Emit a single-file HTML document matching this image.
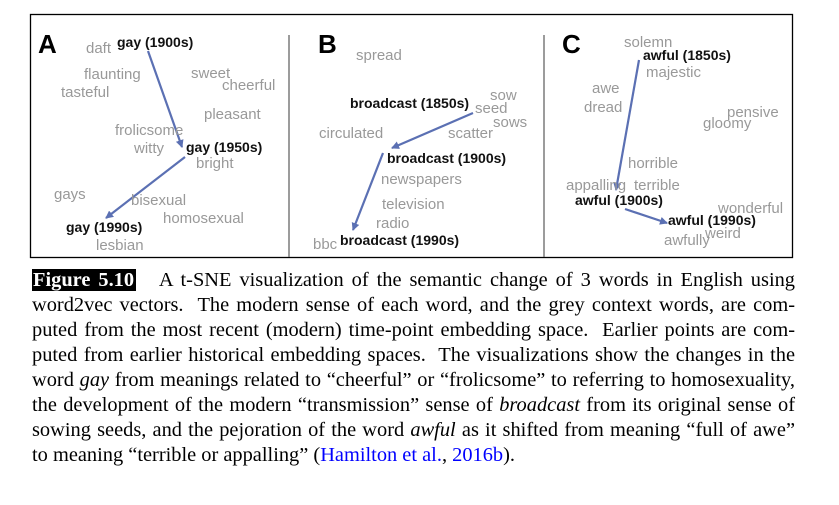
<!DOCTYPE html>
<html><head><meta charset="utf-8"><style>
body{margin:0;width:839px;height:505px;background:#fff;position:relative;overflow:hidden}
svg{position:absolute;left:0;top:0}
.g{font-family:"Liberation Sans",sans-serif;font-size:15px;fill:#999}
.b{font-family:"Liberation Sans",sans-serif;font-size:14px;font-weight:bold;fill:#111}
.L{font-family:"Liberation Sans",sans-serif;font-size:26px;font-weight:bold;fill:#000}
.cap{position:absolute;left:32px;width:763px;font-family:"Liberation Serif",serif;font-size:20.4px;line-height:25px;color:#000;white-space:nowrap;text-align:justify;text-align-last:justify}
.last{text-align-last:left}
.fig{background:#000;color:#fff;font-weight:bold;padding:0 2px 0 1px}
a{color:#00f;text-decoration:none}
</style></head><body>
<svg width="839" height="505">
<defs><marker id="ah" markerWidth="8" markerHeight="8" refX="7" refY="4" orient="auto" markerUnits="userSpaceOnUse"><path d="M0,0 L8,4 L0,8 z" fill="#5b70b3"/></marker></defs>
<rect x="30.5" y="14.5" width="762" height="243" fill="none" stroke="#000" stroke-width="1.3"/>
<line x1="289" y1="35" x2="289" y2="257" stroke="#666" stroke-width="1.3"/>
<line x1="544" y1="35" x2="544" y2="257" stroke="#666" stroke-width="1.3"/>
<g stroke="#5b70b3" stroke-width="2.2" fill="none" marker-end="url(#ah)">
<line x1="148" y1="51" x2="182" y2="147"/>
<line x1="185" y1="157" x2="106" y2="218"/>
<line x1="473" y1="113" x2="392" y2="148"/>
<line x1="383" y1="153" x2="353" y2="230"/>
<line x1="639" y1="60" x2="616" y2="190"/>
<line x1="625" y1="209" x2="667" y2="223"/>
</g>
<text class="L" x="38" y="53">A</text>
<text class="g" x="86" y="53">daft</text>
<text class="b" x="117" y="47">gay (1900s)</text>
<text class="g" x="84" y="79">flaunting</text>
<text class="g" x="191" y="78">sweet</text>
<text class="g" x="222" y="90">cheerful</text>
<text class="g" x="61" y="97">tasteful</text>
<text class="g" x="204" y="119">pleasant</text>
<text class="g" x="115" y="135">frolicsome</text>
<text class="g" x="134" y="153">witty</text>
<text class="b" x="186" y="152">gay (1950s)</text>
<text class="g" x="196" y="168">bright</text>
<text class="g" x="54" y="199">gays</text>
<text class="g" x="131" y="205">bisexual</text>
<text class="g" x="163" y="223">homosexual</text>
<text class="b" x="66" y="232">gay (1990s)</text>
<text class="g" x="96" y="250">lesbian</text>

<text class="L" x="318" y="53">B</text>
<text class="g" x="356" y="60">spread</text>
<text class="g" x="490" y="100">sow</text>
<text class="b" x="350" y="108">broadcast (1850s)</text>
<text class="g" x="475" y="113">seed</text>
<text class="g" x="493" y="127">sows</text>
<text class="g" x="319" y="138">circulated</text>
<text class="g" x="448" y="138">scatter</text>
<text class="b" x="387" y="163">broadcast (1900s)</text>
<text class="g" x="381" y="184">newspapers</text>
<text class="g" x="382" y="209">television</text>
<text class="g" x="376" y="228">radio</text>
<text class="g" x="313" y="249">bbc</text>
<text class="b" x="340" y="245">broadcast (1990s)</text>

<text class="L" x="562" y="53">C</text>
<text class="g" x="624" y="47">solemn</text>
<text class="b" x="643" y="60">awful (1850s)</text>
<text class="g" x="646" y="77">majestic</text>
<text class="g" x="592" y="93">awe</text>
<text class="g" x="584" y="112">dread</text>
<text class="g" x="727" y="117">pensive</text>
<text class="g" x="703" y="128">gloomy</text>
<text class="g" x="628" y="168">horrible</text>
<text class="g" x="566" y="190">appalling</text>
<text class="g" x="634" y="190">terrible</text>
<text class="b" x="575" y="205">awful (1900s)</text>
<text class="g" x="718" y="213">wonderful</text>
<text class="b" x="668" y="225">awful (1990s)</text>
<text class="g" x="705" y="238">weird</text>
<text class="g" x="664" y="245">awfully</text>
</svg>
<div class="cap" style="top:268px"><span class="fig">Figure 5.10</span>&nbsp;&nbsp; A t-SNE visualization of the semantic change of 3 words in English using</div>
<div class="cap" style="top:293px">word2vec vectors.&nbsp; The modern sense of each word, and the grey context words, are com-</div>
<div class="cap" style="top:318px">puted from the most recent (modern) time-point embedding space.&nbsp; Earlier points are com-</div>
<div class="cap" style="top:343px">puted from earlier historical embedding spaces.&nbsp; The visualizations show the changes in the</div>
<div class="cap" style="top:368px">word <i>gay</i> from meanings related to “cheerful” or “frolicsome” to referring to homosexuality,</div>
<div class="cap" style="top:393px">the development of the modern “transmission” sense of <i>broadcast</i> from its original sense of</div>
<div class="cap" style="top:418px">sowing seeds, and the pejoration of the word <i>awful</i> as it shifted from meaning “full of awe”</div>
<div class="cap last" style="top:443px">to meaning “terrible or appalling” (<a>Hamilton et al.</a>, <a>2016b</a>).</div>
</body></html>
